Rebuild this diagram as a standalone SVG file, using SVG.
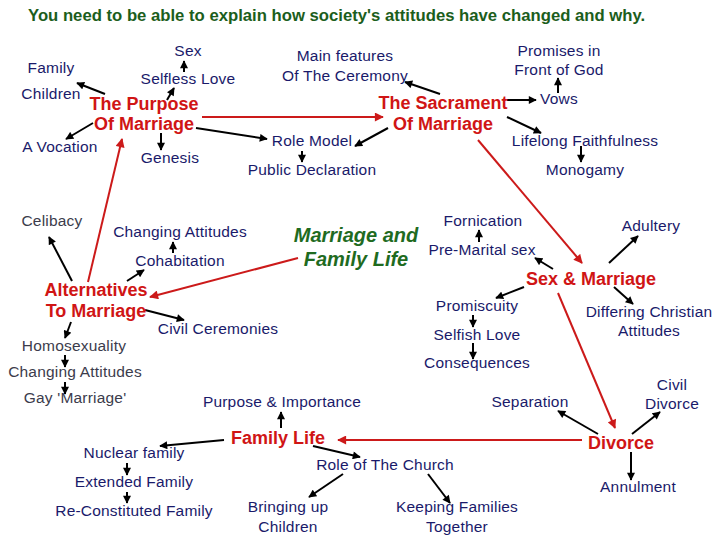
<svg xmlns="http://www.w3.org/2000/svg" width="720" height="540" viewBox="0 0 720 540">
<style>
text{font-family:"Liberation Sans",Arial,sans-serif;text-anchor:middle}
.t{font-size:15.5px;letter-spacing:0.2px;fill:#1a1a6a}
.g{font-size:15.5px;letter-spacing:0.2px;fill:#3c3c4c}
.r{font-size:18px;font-weight:bold;fill:#d01515}
.title{font-size:16.7px;font-weight:bold;fill:#1c5e1c;text-anchor:start}
.main{font-size:20px;font-weight:bold;font-style:italic;fill:#1f6b1f}
.bl{stroke:#000;stroke-width:2;fill:none;marker-end:url(#ab)}
.rl{stroke:#cc1a1a;stroke-width:2;fill:none;marker-end:url(#ar)}
</style>
<defs>
<marker id="ab" viewBox="0 0 10 10" refX="9" refY="5" markerWidth="9" markerHeight="8" markerUnits="userSpaceOnUse" orient="auto"><path d="M0,0L10,5L0,10z" fill="#000"/></marker>
<marker id="ar" viewBox="0 0 10 10" refX="9" refY="5" markerWidth="10" markerHeight="9" markerUnits="userSpaceOnUse" orient="auto"><path d="M0,0L10,5L0,10z" fill="#cc1a1a"/></marker>
</defs>
<rect width="720" height="540" fill="#fff"/>
<text class="title" x="28" y="21">You need to be able to explain how society's attitudes have changed and why.</text>

<g id="connectors">
<line class="rl" x1="202" y1="117" x2="383" y2="117"/>
<line class="rl" x1="88" y1="282" x2="122" y2="139"/>
<line class="rl" x1="298" y1="258" x2="150" y2="297"/>
<line class="rl" x1="478" y1="140" x2="582" y2="263"/>
<line class="rl" x1="558" y1="293" x2="615" y2="428"/>
<line class="rl" x1="582" y1="440" x2="338" y2="440"/>

<line class="bl" x1="184" y1="72" x2="184" y2="61"/>
<line class="bl" x1="167" y1="100" x2="174" y2="88"/>
<line class="bl" x1="105" y1="94" x2="77" y2="83"/>
<line class="bl" x1="93" y1="123" x2="66" y2="139"/>
<line class="bl" x1="161" y1="133" x2="161" y2="150"/>
<line class="bl" x1="196" y1="128" x2="267" y2="139"/>
<line class="bl" x1="440" y1="94" x2="405" y2="82"/>
<line class="bl" x1="388" y1="128" x2="355" y2="146"/>
<line class="bl" x1="302" y1="151" x2="302" y2="162"/>
<line class="bl" x1="558" y1="93" x2="558" y2="78"/>
<line class="bl" x1="507" y1="100" x2="536" y2="100"/>
<line class="bl" x1="507" y1="117" x2="541" y2="133"/>
<line class="bl" x1="581" y1="146" x2="581" y2="162"/>

<line class="bl" x1="72" y1="281" x2="49" y2="237"/>
<line class="bl" x1="127" y1="281" x2="144" y2="270"/>
<line class="bl" x1="173" y1="253" x2="173" y2="242"/>
<line class="bl" x1="145" y1="310" x2="184" y2="320"/>
<line class="bl" x1="71" y1="322" x2="65" y2="338"/>
<line class="bl" x1="65" y1="355" x2="65" y2="367"/>
<line class="bl" x1="65" y1="382" x2="65" y2="394"/>

<line class="bl" x1="609" y1="263" x2="638" y2="236"/>
<line class="bl" x1="553" y1="269" x2="535" y2="258"/>
<line class="bl" x1="524" y1="287" x2="496" y2="298"/>
<line class="bl" x1="614" y1="287" x2="633" y2="304"/>
<line class="bl" x1="479" y1="242" x2="479" y2="230"/>
<line class="bl" x1="473" y1="315" x2="473" y2="327"/>
<line class="bl" x1="473" y1="343" x2="473" y2="359"/>

<line class="bl" x1="281" y1="428" x2="281" y2="412"/>
<line class="bl" x1="224" y1="440" x2="160" y2="446"/>
<line class="bl" x1="127" y1="463" x2="127" y2="475"/>
<line class="bl" x1="127" y1="492" x2="127" y2="503"/>
<line class="bl" x1="313" y1="446" x2="360" y2="457"/>
<line class="bl" x1="343" y1="474" x2="309" y2="497"/>
<line class="bl" x1="428" y1="474" x2="450" y2="503"/>

<line class="bl" x1="598" y1="434" x2="558" y2="411"/>
<line class="bl" x1="632" y1="434" x2="660" y2="412"/>
<line class="bl" x1="631" y1="452" x2="631" y2="480"/>
</g>

<g id="marriage-family-life"><text class="main" x="356" y="242">Marriage and</text><text class="main" x="356" y="266">Family Life</text></g>

<g id="purpose"><text class="r" x="144" y="110">The Purpose</text><text class="r" x="144" y="130">Of Marriage</text></g>
<g id="sex"><text class="t" x="188" y="56">Sex</text></g>
<g id="family"><text class="t" x="51" y="73">Family</text></g>
<g id="selfless-love"><text class="t" x="188" y="84">Selfless Love</text></g>
<g id="children"><text class="t" x="51" y="99">Children</text></g>
<g id="vocation"><text class="t" x="60" y="152">A Vocation</text></g>
<g id="genesis"><text class="t" x="170" y="163">Genesis</text></g>

<g id="sacrament"><text class="r" x="443" y="109">The Sacrament</text><text class="r" x="443" y="130">Of Marriage</text></g>
<g id="main-features"><text class="t" x="345" y="61">Main features</text><text class="t" x="345" y="81">Of The Ceremony</text></g>
<g id="promises"><text class="t" x="559" y="56">Promises in</text><text class="t" x="559" y="75">Front of God</text></g>
<g id="vows"><text class="t" x="559" y="104">Vows</text></g>
<g id="role-model"><text class="t" x="312" y="146">Role Model</text></g>
<g id="public-declaration"><text class="t" x="312" y="175">Public Declaration</text></g>
<g id="lifelong"><text class="t" x="585" y="146">Lifelong Faithfulness</text></g>
<g id="monogamy"><text class="t" x="585" y="175">Monogamy</text></g>

<g id="alternatives"><text class="r" x="96" y="296">Alternatives</text><text class="r" x="96" y="317">To Marriage</text></g>
<g id="celibacy"><text class="g" x="52" y="226">Celibacy</text></g>
<g id="changing-attitudes-1"><text class="t" x="180" y="237">Changing Attitudes</text></g>
<g id="cohabitation"><text class="t" x="180" y="266">Cohabitation</text></g>
<g id="civil-ceremonies"><text class="t" x="218" y="334">Civil Ceremonies</text></g>
<g id="homosexuality"><text class="g" x="74" y="351">Homosexuality</text></g>
<g id="changing-attitudes-2"><text class="g" x="75" y="377">Changing Attitudes</text></g>
<g id="gay-marriage"><text class="g" x="75" y="403">Gay 'Marriage'</text></g>

<g id="sex-marriage"><text class="r" x="591" y="285">Sex &amp; Marriage</text></g>
<g id="fornication"><text class="t" x="483" y="226">Fornication</text></g>
<g id="adultery"><text class="t" x="651" y="231">Adultery</text></g>
<g id="pre-marital"><text class="t" x="482" y="255">Pre-Marital sex</text></g>
<g id="promiscuity"><text class="t" x="477" y="311">Promiscuity</text></g>
<g id="differing"><text class="t" x="649" y="317">Differing Christian</text><text class="t" x="649" y="336">Attitudes</text></g>
<g id="selfish-love"><text class="t" x="477" y="340">Selfish Love</text></g>
<g id="consequences"><text class="t" x="477" y="368">Consequences</text></g>

<g id="divorce"><text class="r" x="621" y="449">Divorce</text></g>
<g id="civil-divorce"><text class="t" x="672" y="390">Civil</text><text class="t" x="672" y="409">Divorce</text></g>
<g id="separation"><text class="t" x="530" y="407">Separation</text></g>
<g id="annulment"><text class="t" x="638" y="492">Annulment</text></g>

<g id="family-life"><text class="r" x="278" y="444">Family Life</text></g>
<g id="purpose-importance"><text class="t" x="282" y="407">Purpose &amp; Importance</text></g>
<g id="nuclear"><text class="t" x="134" y="458">Nuclear family</text></g>
<g id="extended"><text class="t" x="134" y="487">Extended Family</text></g>
<g id="reconstituted"><text class="t" x="134" y="516">Re-Constituted Family</text></g>
<g id="role-church"><text class="t" x="385" y="470">Role of The Church</text></g>
<g id="bringing-up"><text class="t" x="288" y="512">Bringing up</text><text class="t" x="288" y="532">Children</text></g>
<g id="keeping"><text class="t" x="457" y="512">Keeping Families</text><text class="t" x="457" y="532">Together</text></g>
</svg>
